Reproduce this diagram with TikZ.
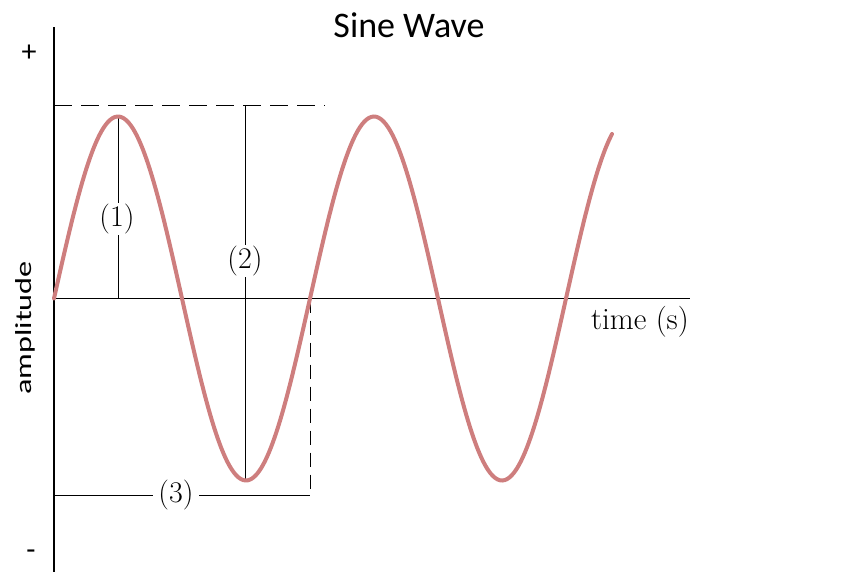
\documentclass[tikz,border=0pt]{standalone}
\usepackage{fontspec}
\newfontfamily\carlito{Carlito}
\definecolor{wave}{RGB}{206,126,126}
\tikzset{
  axisline/.style={line width=1.5pt, black},
  thinline/.style={line width=1pt, black},
  dashline/.style={line width=1pt, black, dash pattern=on 18pt off 9pt},
  wavecurve/.style={line width=4pt, wave, line cap=round},
  numlabel/.style={fill=white, inner sep=1pt, font=\fontsize{30}{32}\selectfont},
  signlabel/.style={inner sep=0pt, font=\carlito\fontsize{30}{32}\selectfont},
}
\begin{document}
\begin{tikzpicture}[x=1pt, y=-1pt]
\useasboundingbox (0,0) rectangle (868,576);
% coordinates
\coordinate (otop) at (54,27);
\coordinate (obot) at (54,572);
\coordinate (o) at (54,298.5);
\coordinate (xend) at (690,298.5);
\coordinate (dtopL) at (54,105);
\coordinate (dtopR) at (325,105);
\coordinate (peak) at (118,117);
\coordinate (peakbase) at (118,298.5);
\coordinate (ptop) at (245,105);
\coordinate (trough) at (245,480);
\coordinate (zc) at (310,298.5);
\coordinate (zbot) at (310,495.5);
\coordinate (hl) at (54,495.5);
% axes
\draw[axisline] (otop) -- (obot);
\draw[axisline] (o) -- (xend);
% guide lines
\draw[dashline] (dtopL) -- (dtopR);
\draw[thinline] (peak) -- (peakbase);
\draw[thinline] (ptop) -- (trough);
\draw[thinline, dash pattern=on 14pt off 8pt] (zc) -- (zbot);
\draw[thinline] (hl) -- (zbot);
% wave
\draw[wavecurve] plot[domain=54:612, samples=240, smooth] (\x, {298.5 - 182*sin((\x-54)*1.40625)});
% labels
\node[numlabel] (l1) at (117,219) {(1)};
\node[numlabel] (l2) at (245,261) {(2)};
\node[numlabel, inner xsep=5pt] (l3) at (176,495.5) {(3)};
\node[inner sep=0pt, font=\fontsize{31}{33}\selectfont] (tlab) at (640,322) {time (s)};
\node[inner sep=0pt, anchor=base, font=\carlito\fontsize{36}{38}\selectfont] (title) at (409,37) {Sine Wave};
\node[inner sep=0pt, rotate=90, font=\carlito\fontsize{23}{25}\selectfont] (ylab) at (25,328) {\scalebox{1.4}[1]{amplitude}};
\node[signlabel] (plus) at (29,53) {+};
\node[signlabel] (minus) at (31,555) {-};
\end{tikzpicture}
\end{document}
